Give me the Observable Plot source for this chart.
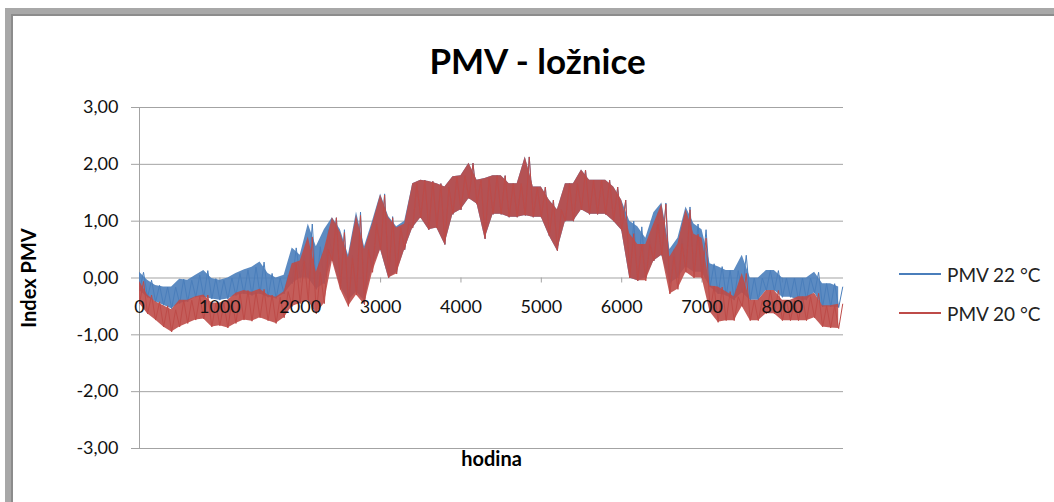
<!DOCTYPE html>
<html><head><meta charset="utf-8">
<script src="https://cdn.jsdelivr.net/npm/d3@7"></script>
<script src="https://cdn.jsdelivr.net/npm/@observablehq/plot@0.6"></script>
<style>
body{margin:0;background:#fff;}
#wrap{position:relative;width:1054px;height:502px;overflow:hidden;font-family:Lato,sans-serif;background:#fff;}
#chart{position:absolute;left:0;top:0;}
#frame{position:absolute;left:5px;top:8px;width:1200px;height:700px;border-top:6px solid #a8a8a8;border-left:6px solid #a8a8a8;box-shadow:inset 2px 2px 0 #8c8c8c;box-sizing:border-box;pointer-events:none;}
.leg{position:absolute;left:899px;height:20px;display:flex;align-items:center;font-size:19px;color:#222;white-space:nowrap;}
.leg .sw{display:inline-block;width:42px;height:1.5px;margin-right:6px;}
</style></head>
<body>
<div id="wrap">
  <div id="chart"></div>
  <div class="leg" style="top:264px"><span class="sw" style="background:#4a7ebb"></span>PMV 22 °C</div>
  <div class="leg" style="top:303px"><span class="sw" style="background:#be4b48"></span>PMV 20 °C</div>
  <div id="frame"></div>
</div>
<script>
const title = "PMV - ložnice";
const yTitle = "Index PMV";
const xTitle = "hodina";
const seriesNames = ["PMV 22 °C", "PMV 20 °C"];
const seriesColors = ["#4a7ebb", "#be4b48"];
const xTicks = [0, 1000, 2000, 3000, 4000, 5000, 6000, 7000, 8000];
const yTicks = [-3, -2, -1, 0, 1, 2, 3];

const hours = [0,100,200,300,400,500,600,700,800,900,
 1000,1100,1200,1300,1400,1500,1600,1700,1800,1900,
 2000,2100,2200,2300,2400,2500,2600,2700,2800,2900,
 3000,3100,3200,3300,3400,3500,3600,3700,3800,3900,
 4000,4100,4200,4300,4400,4500,4600,4700,4800,4900,
 5000,5100,5200,5300,5400,5500,5600,5700,5800,5900,
 6000,6100,6200,6300,6400,6500,6600,6700,6800,6900,
 7000,7100,7200,7300,7400,7500,7600,7700,7800,7900,
 8000,8100,8200,8300,8400,8500,8600,8700];

// PMV 22 °C: lower / upper edge of the noisy band in each 100-hour slice
const blueLow = [-0.22,-0.34,-0.42,-0.48,-0.54,-0.45,-0.42,-0.34,-0.34,-0.37,
 -0.39,-0.37,-0.31,-0.28,-0.31,-0.28,-0.34,-0.36,-0.28,-0.10,
 0.00,0.00,-0.20,-0.10,0.35,-0.15,-0.40,-0.25,-0.40,0.20,
 0.50,0.00,0.10,0.50,0.88,1.06,0.85,0.88,0.59,1.12,
 1.20,1.40,1.30,0.69,1.12,1.12,1.07,1.07,1.10,1.07,
 1.07,0.74,0.48,1.00,1.00,1.20,1.12,1.12,1.12,1.00,
 0.84,0.00,-0.05,0.00,0.30,0.40,-0.10,0.00,0.20,0.10,
 0.10,-0.16,-0.28,-0.31,-0.39,-0.26,-0.39,-0.39,-0.22,-0.22,
 -0.34,-0.34,-0.39,-0.39,-0.26,-0.51,-0.51,-0.52];
const blueHigh = [0.10,-0.04,-0.13,-0.16,-0.16,-0.02,-0.04,0.05,0.13,-0.01,
 -0.04,0.00,0.08,0.14,0.19,0.28,0.08,0.00,0.05,0.53,
 0.40,0.95,0.55,0.85,1.06,0.85,0.40,1.16,0.55,1.00,
 1.48,1.08,0.90,1.00,1.66,1.72,1.70,1.66,1.60,1.78,
 1.80,2.02,1.72,1.75,1.80,1.80,1.66,1.66,2.13,1.60,
 1.60,1.37,1.20,1.66,1.66,1.90,1.72,1.72,1.72,1.60,
 1.37,1.00,0.90,0.70,1.15,1.32,0.50,0.70,1.25,0.95,
 0.85,0.25,0.20,0.13,0.13,0.40,0.00,0.00,0.13,0.13,
 0.00,0.00,0.00,0.00,0.10,-0.10,-0.10,-0.16];

// PMV 20 °C
const redLow = [-0.45,-0.63,-0.74,-0.86,-0.95,-0.86,-0.80,-0.74,-0.72,-0.86,
 -0.84,-0.88,-0.80,-0.74,-0.76,-0.70,-0.75,-0.80,-0.70,-0.50,
 -0.45,-0.40,-0.63,-0.45,0.30,-0.20,-0.50,-0.30,-0.47,0.10,
 0.50,0.00,0.07,0.50,0.88,1.06,0.85,0.88,0.59,1.12,
 1.20,1.40,1.30,0.69,1.12,1.12,1.07,1.07,1.10,1.07,
 1.07,0.74,0.48,1.00,1.00,1.20,1.12,1.12,1.12,1.00,
 0.84,0.00,-0.05,-0.05,0.30,0.40,-0.28,-0.20,0.10,0.00,
 0.00,-0.60,-0.78,-0.75,-0.75,-0.50,-0.75,-0.75,-0.63,-0.63,
 -0.75,-0.75,-0.75,-0.75,-0.70,-0.86,-0.88,-0.89];
const redHigh = [-0.06,-0.30,-0.42,-0.49,-0.56,-0.39,-0.39,-0.33,-0.30,-0.44,
 -0.44,-0.39,-0.27,-0.22,-0.25,-0.20,-0.30,-0.34,-0.24,0.25,
 0.30,0.72,0.10,0.50,1.06,0.80,0.35,1.10,0.50,0.95,
 1.46,1.06,0.88,0.95,1.66,1.72,1.70,1.66,1.60,1.78,
 1.80,2.02,1.72,1.75,1.80,1.80,1.66,1.66,2.13,1.60,
 1.60,1.37,1.20,1.66,1.66,1.90,1.72,1.72,1.72,1.60,
 1.37,0.78,0.59,0.59,0.95,1.30,0.37,0.60,1.20,0.77,
 0.70,-0.14,-0.16,-0.24,-0.33,0.08,-0.39,-0.39,-0.22,-0.22,
 -0.39,-0.39,-0.33,-0.33,-0.27,-0.49,-0.49,-0.46];

const fmt = d => d.toFixed(2).replace(".", ",");
function band(lo, hi) { return hours.map((h, i) => ({h, lo: lo[i], hi: hi[i]})); }
function zig(lo, hi) {
  const out = [];
  hours.forEach((h, i) => { out.push({h, v: lo[i]}); out.push({h: h + 50, v: hi[i]}); });
  return out;
}
const grid = "#a3a3a3";
const seriesMarks = [[blueLow, blueHigh, seriesColors[0]], [redLow, redHigh, seriesColors[1]]].flatMap(([lo, hi, c]) => [
  Plot.areaY(band(lo, hi), {x: "h", y1: "lo", y2: "hi", fill: c, fillOpacity: 0.9}),
  Plot.line(zig(lo, hi), {x: "h", y: "v", stroke: c, strokeWidth: 1})
]);

const chart = Plot.plot({
  width: 1054, height: 502,
  marginLeft: 139, marginRight: 211, marginTop: 107, marginBottom: 54,
  style: {background: "none", fontFamily: "Lato, sans-serif", color: "#000"},
  x: {domain: [0, 8760], axis: null},
  y: {domain: [-3, 3], axis: null},
  marks: [
    Plot.ruleY(yTicks, {stroke: grid, strokeWidth: 1}),
    Plot.ruleX([0], {stroke: grid, strokeWidth: 1}),
    Plot.ruleY(yTicks, {x1: 0, x2: 0, insetLeft: -8, stroke: grid}),
    Plot.ruleX(xTicks, {x: d => d, y1: 0, y2: 0, insetBottom: -5, stroke: grid}),
    ...seriesMarks,
    Plot.text(yTicks, {x: 0, y: d => d, text: fmt, dx: -21, textAnchor: "end", fontSize: 18, fill: "#111"}),
    Plot.text(xTicks, {x: d => d, y: 0, text: d => String(d), dy: 29, fontSize: 18, fill: "#111"}),
    Plot.text([title], {frameAnchor: "top", dx: 46, dy: -58, fontSize: 35, fontWeight: "bold", fill: "#000"}),
    Plot.text([yTitle], {frameAnchor: "left", dx: -110, rotate: -90, textAnchor: "middle", fontSize: 20, fontWeight: "bold", fill: "#000"}),
    Plot.text([xTitle], {frameAnchor: "bottom", dy: 17, fontSize: 20, fontWeight: "bold", fill: "#000"})
  ]
});
document.getElementById("chart").appendChild(chart);
</script>
</body></html>
